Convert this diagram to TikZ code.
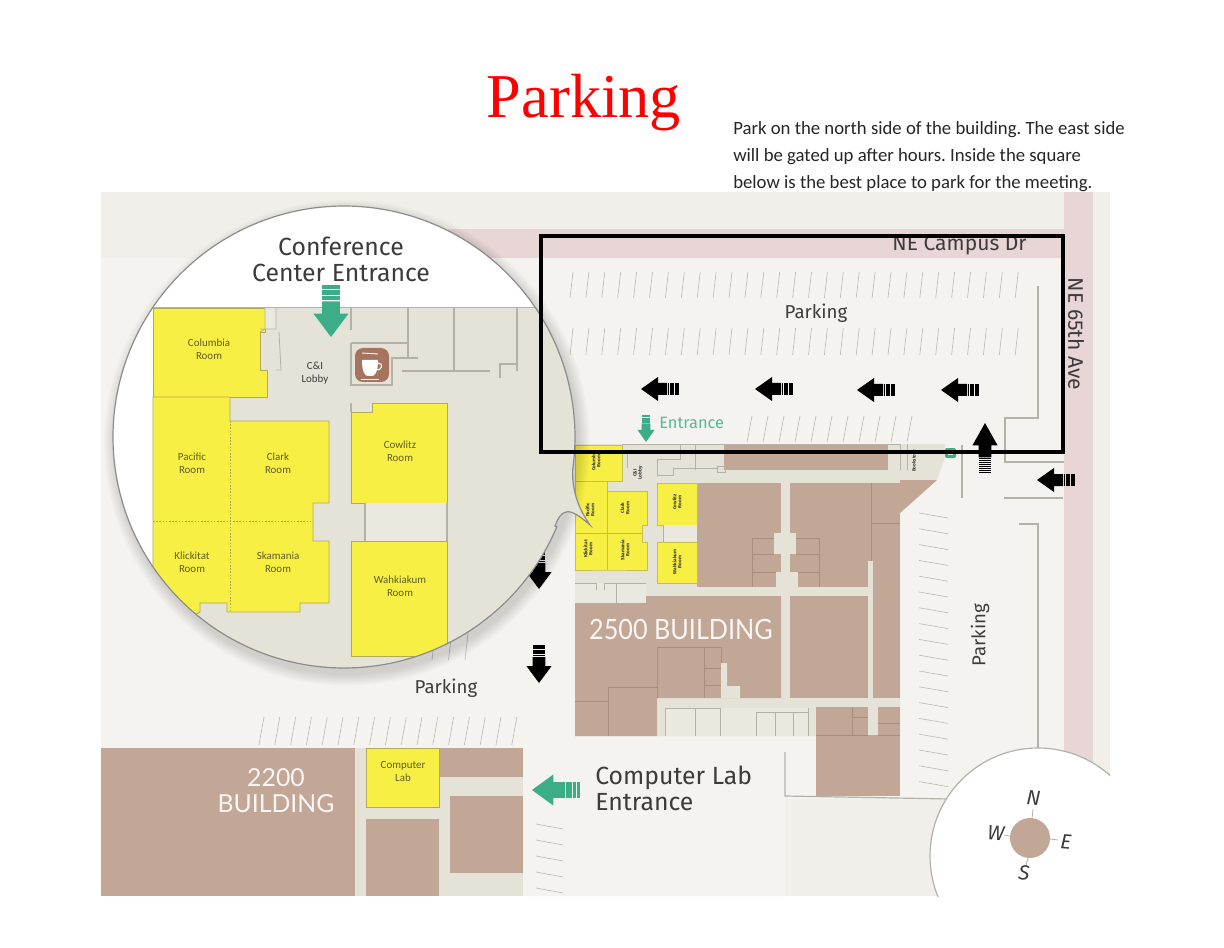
\documentclass[tikz,border=0pt]{standalone}
\usepackage{fontspec}
\usepackage{graphicx}
\setmainfont{Fira Sans}
\newfontfamily\titlefont{Liberation Serif}
\newfontfamily\parafont{Carlito}
\newfontfamily\bldfont{Lato}
\usetikzlibrary{calc}
\definecolor{mapbg}{HTML}{F1EFE9}
\definecolor{lotbg}{HTML}{F4F3EF}
\definecolor{road}{HTML}{E8D6D6}
\definecolor{brownb}{HTML}{C2A696}
\definecolor{brownl}{HTML}{AB8D7D}
\definecolor{corr}{HTML}{E5E2D8}
\definecolor{corrl}{HTML}{EAE8DF}
\definecolor{wall}{HTML}{B3B1A8}
\definecolor{yell}{HTML}{F8EF45}
\definecolor{yellb}{HTML}{B0AB55}
\definecolor{ink}{HTML}{3C3C3C}
\definecolor{roomink}{HTML}{5F5D22}
\definecolor{grn}{HTML}{3BAE88}
\definecolor{coffee}{HTML}{A5735E}
\definecolor{stall}{HTML}{BDBCB4}
\tikzset{
  x=0.75pt,y=-0.75pt,
  wallline/.style={draw=wall,line width=0.9pt},
  thinwall/.style={draw=wall,line width=0.6pt},
  inbrown/.style={draw=brownl,line width=0.5pt},
  stallline/.style={draw=stall,line width=0.5pt},
  room/.style={fill=yell,draw=yellb,line width=0.7pt},
  miniroom/.style={fill=yell,draw=yellb!70!yell,line width=0.4pt},
  roomtxt/.style={font=\fontsize{8.2}{9.8}\selectfont\parafont,text=roomink,align=center,inner sep=0pt},
  tinytxt/.style={font=\fontsize{3.5}{3.9}\selectfont\bfseries,text=black!80,align=center,inner sep=0pt,rotate=90},
  maptxt/.style={font=\fontsize{14}{14}\selectfont,text=ink,inner sep=0pt},
  largetxt/.style={font=\fontsize{18.6}{19.5}\selectfont,text=ink,inner sep=0pt},
  roadtxt/.style={font=\fontsize{15.8}{16}\selectfont,text=ink,inner sep=0pt},
  comptxt/.style={font=\fontsize{15.5}{16}\selectfont\itshape,text=ink,inner sep=0pt,rotate=-5},
  bldtxt/.style={font=\bldfont,text=white!90!brownb,inner sep=0pt,align=center},
}
% x, y (tip), rotation, colour, xscale, yscale, stripes
\newcommand\wayarrow[7]{%
  \begin{scope}[shift={(#1,#2)},rotate=#3,xscale=#5,yscale=#6]
    \fill[#4] (0,0) -- (17,-12) -- (17,-6) -- (26,-6) -- (26,6) -- (17,6) -- (17,12) -- cycle;
    \pgfmathsetmacro\stripw{12/#7}
    \foreach \i in {1,...,#7}{
      \fill[#4] ({26+(\i-1)*\stripw+0.25*\stripw},-6) rectangle ({26+\i*\stripw},6);
    }
  \end{scope}}
% n lines, x0, y0, x1, y1 first line; dx, dy
\newcommand\stalls[7]{%
  \foreach \i in {1,...,#1}{
    \draw[stallline] ({#2+(\i-1)*#6},{#3+(\i-1)*#7}) -- ({#4+(\i-1)*#6},{#5+(\i-1)*#7});
  }}
\newcommand\calloutpath{
  plot[domain=22.9:368.2,samples=220,smooth] ({344+231*cos(\x)},{437+231*sin(\x)})
  .. controls (572,490) and (578,508) .. (590,525)
  .. controls (582,518) and (572,510) .. (566,512)
  .. controls (561,513) and (558,518) .. (555,526) -- cycle}
\begin{document}
\begin{tikzpicture}
\useasboundingbox (0,0) rectangle (1224,948);
\fill[white] (0,0) rectangle (1224,948);
% map base
\fill[mapbg] (101,192) rectangle (1110,896);
\fill[lotbg] (101,258) -- (1064,258) -- (1064,799) -- (785,799) -- (785,896) -- (523,896) -- (523,748) -- (101,748) -- cycle;
% roads
\fill[road] (448,229) rectangle (1064,258);
\fill[road] (1064,192) rectangle (1093,770);
% conference building underlay
\fill[corr] (575,444) -- (945,444) -- (945,458) -- (937,480) -- (900,513) -- (900,736) -- (575,736) -- cycle;
% brown blocks
\fill[brownb] (724,444) rectangle (888,470);
\fill[brownb] (697,483) rectangle (781,587);
\fill[brownb] (790,483) -- (900,483) -- (900,587) -- (790,587) -- cycle;
\fill[brownb] (900,480) -- (937,480) -- (900,513) -- cycle;
\fill[brownb] (873,561) rectangle (900,698);
\fill[brownb] (790,596) rectangle (868,698);
\fill[corr] (868,561) rectangle (873,596);
\fill[brownb] (575,603) -- (646,603) -- (646,596) -- (781,596) -- (781,698) -- (657,698) -- (657,736) -- (575,736) -- cycle;
\fill[corr] (721,663) -- (727,663) -- (727,686) -- (740,686) -- (740,698) -- (721,698) -- cycle;
\fill[corr] (774,533) rectangle (796,554);
\fill[corr] (776,572) rectangle (798,587);
\fill[brownb] (816,707) rectangle (900,796);
\fill[corr] (868,707) rectangle (878,735);
% brown inner lines
\draw[inbrown] (752,587) -- (752,538) -- (774,538) (752,554) -- (774,554) (752,572) -- (776,572);
\draw[inbrown] (796,538) -- (819,538) -- (819,587) (796,554) -- (819,554) (798,572) -- (819,572);
\draw[inbrown] (657,698) -- (657,647) -- (721,647) -- (721,663) (704,647) -- (704,698) (704,668) -- (721,668) (704,685) -- (721,685);
\draw[inbrown] (608,736) -- (608,687) -- (657,687) (575,701) -- (608,701);
\draw[inbrown] (852,707) -- (852,735) (852,717) -- (868,717) (816,735) -- (868,735) (878,735) -- (900,735) (878,723) -- (900,723);
\draw[inbrown] (871,483) -- (871,561) (871,523) -- (900,523);
% mini plan rooms at the bottom
\fill[corrl] (665,708) rectangle (808,736);
\draw[thinwall] (665,736) -- (665,708) -- (720,708) (695,708) -- (695,736) (720,708) -- (720,736) (756,712) -- (756,736) (775,712) -- (775,736) (793,712) -- (793,736) (808,708) -- (808,736) (756,712) -- (808,712);
\fill[corrl] (575,583) rectangle (646,603);
\draw[thinwall] (575,583) -- (596,583) (604,583) -- (646,583) (616,583) -- (616,603) (596,583) -- (596,590) (604,583) -- (604,590);
% mini rooms
\path[miniroom] (575,445) -- (622,445) -- (622,481) -- (607,481) -- (607,491) -- (647,491) -- (647,525) -- (642,525) -- (642,542) -- (647,542) -- (647,570) -- (607,570) -- (575,570) -- cycle;
\draw[draw=yellb!70!yell,line width=0.4pt] (575,481) -- (607,481) -- (607,570) (575,533) -- (642,533);
\path[miniroom] (657,483) rectangle (697,525);
\path[miniroom] (657,542) rectangle (697,583);
\fill[corrl] (663,525) rectangle (697,542);
\draw[thinwall] (663,525) -- (663,542);
% mini plan lines
\draw[thinwall] (622,444) -- (900,444);
\draw[thinwall] (627,453) -- (627,468) (657,459) -- (680,459) -- (680,444) (695,444) -- (695,470) (657,459) -- (657,475) -- (673,475) -- (673,468) -- (717,468) (717,466) -- (725,466) -- (725,472) -- (717,472) -- cycle;
\draw[thinwall] (900,444) -- (900,470) (907,444) -- (907,470);
\node[tinytxt] (mColumbia) at (596,461) {Columbia\\Room};
\node[tinytxt] (mLobby) at (638,473) {C\&I\\Lobby};
\node[tinytxt] (mPacific) at (590,510) {Pacific\\Room};
\node[tinytxt] (mClark) at (625,508) {Clark\\Room};
\node[tinytxt] (mKlickitat) at (588,549) {Klickitat\\Room};
\node[tinytxt] (mSkamania) at (625,550) {Skamania\\Room};
\node[tinytxt] (mCowlitz) at (677,502) {Cowlitz\\Room};
\node[tinytxt] (mWahkiakum) at (677,562) {Wahkiakum\\Room};
\node[tinytxt,text=ink] (mStore) at (914,461) {Bookstore};
\fill[grn,rounded corners=1.5pt] (945,448) rectangle (956,458);
\fill[corr] (948,451.5) rectangle (953,454.5);
% 2200 building
\fill[corr] (355,748) rectangle (523,896);
\fill[brownb] (101,748) rectangle (355,896);
\fill[brownb] (439,748) rectangle (523,777);
\fill[brownb] (366,819) rectangle (439,896);
\fill[brownb] (450,796) rectangle (523,873);
\path[room] (366,748) rectangle (439,807);
\node[roomtxt] (lab) at (403,771.5) {Computer\\Lab};
% walls of the lot
\draw[wallline] (1038,286) -- (1038,418) -- (1005,418) -- (1005,462) -- (1064,462);
\draw[wallline] (962,445) -- (962,498) (1004,498) -- (1063,498);
\draw[wallline] (1019,524) -- (1038,524) -- (1038,760);
\draw[wallline] (785,752) -- (785,796) -- (950,799);
% parking stalls
\stalls{29}{570}{298}{573}{272}{15.9}{0}
\stalls{29}{570}{355}{573}{328}{15.9}{0}
\stalls{11}{747}{442}{752}{416}{16}{0}
\stalls{17}{259}{745}{264}{717}{15.8}{0}
\stalls{3}{432}{660}{435}{633}{16.5}{0}
\stalls{18}{919}{513}{948}{518}{0}{15.8}
\stalls{5}{536}{824}{563}{829}{0}{16}
% road and place labels
\node[roadtxt] (campus) at (959.5,245) {NE Campus Dr};
\node[roadtxt,rotate=-90] (ave) at (1076,334) {NE 65th Ave};
\node[maptxt] (park1) at (816,313) {Parking};
\node[maptxt] (park2) at (446,688) {Parking};
\node[maptxt,rotate=90] (park3) at (980,635) {Parking};
\node[largetxt,align=left,anchor=west] (lab2) at (595,788) {Computer Lab\\Entrance};
\node[maptxt,font=\fontsize{12.3}{13}\selectfont,text=grn!85!white,anchor=west] (entr) at (659,423) {Entrance};
\node[bldtxt,font=\fontsize{21}{20}\selectfont\bldfont] (b2500) at (681,629) {\scalebox{0.9}[1]{2500 BUILDING}};
\node[bldtxt,font=\fontsize{18.6}{19.5}\selectfont\bldfont] (b2200) at (276,791) {2200\\BUILDING};
% arrows
\wayarrow{641}{389}{0}{black}{1}{1}{5}
\wayarrow{755}{389}{0}{black}{1}{1}{5}
\wayarrow{857}{390}{0}{black}{1}{1}{5}
\wayarrow{941}{390}{0}{black}{1}{1}{5}
\wayarrow{1037}{480}{0}{black}{1}{1}{5}
\wayarrow{985}{423}{-90}{black}{1.32}{1.05}{8}
\wayarrow{539}{589}{90}{black}{1}{1.05}{5}
\wayarrow{539}{683}{90}{black}{1}{1.05}{5}
\wayarrow{646}{442}{90}{grn}{0.72}{0.72}{3}
\wayarrow{532}{790}{0}{grn}{1.26}{1.3}{4}
% compass
\begin{scope}
  \clip (101,192) rectangle (1110,896);
  \fill[white,draw=wall,line width=0.9pt] (1038,856) circle[radius=108];
\end{scope}
\draw[thinwall] (1033,809) -- (1032,818) (1050,839) -- (1058,840) (1028,858) -- (1026,865) (1010,836) -- (1004,835);
\fill[brownb] (1030,838) circle[radius=20];
\node[comptxt] (cN) at (1033.5,798) {N};
\node[comptxt] (cE) at (1066,842) {E};
\node[comptxt] (cS) at (1024,873) {S};
\node[comptxt] (cW) at (996,833) {W};
% shadow of callout
\foreach \r in {1,2,...,12}{
  \fill[black,opacity=0.012] (347,443) circle[radius={231+\r}];
}
% callout
\fill[white] \calloutpath;
\begin{scope}
  \clip \calloutpath;
  \fill[corr] (153,307) rectangle (610,680);
  % Columbia
  \path[room] (153,308) -- (265,308) -- (265,332) -- (260,332) -- (260,370) -- (267,370) -- (267,397) -- (153,397) -- cycle;
  % west wing
  \path[room] (153,397) -- (230,397) -- (230,421) -- (329,421) -- (329,503) -- (313,503) -- (313,541) -- (329,541) -- (329,603) -- (300,603) -- (300,612) -- (227,612) -- (227,603) -- (200,603) -- (200,612) -- (153,640) -- cycle;
  \draw[draw=yellb,line width=0.5pt,dash pattern=on 1.2pt off 1.2pt] (230,421) -- (230,612) (153,521) -- (313,521);
  % east rooms
  \path[room] (351,412) -- (372,412) -- (372,403) -- (447,403) -- (447,503) -- (351,503) -- cycle;
  \path[room] (351,541) -- (447,541) -- (447,656) -- (351,656) -- cycle;
  \fill[corrl] (365,503) rectangle (447,541);
  \draw[wallline] (365,503) -- (365,541) (447,503) -- (447,541);
  % walls
  \fill[corrl] (265,308) rectangle (276,329);
  \draw[thinwall] (153,307.5) -- (570,307.5);
  \draw[thinwall] (265,308) -- (265,329) -- (260,332) (276,308) -- (276,329) -- (260,329) (279,332) -- (281,370) -- (276,370);
  \draw[wallline] (351,308) -- (351,330);
  \draw[wallline] (351,343) -- (408,343) (408,308) -- (408,358) -- (418,358);
  \draw[wallline] (351,343) -- (351,385) -- (392,385) -- (392,358) -- (408,358);
  \draw[wallline] (402,371) -- (490,371) (454,308) -- (454,371) (517,308) -- (517,371) (500,378) -- (500,364) -- (517,364);
  \draw[wallline] (351,403) -- (351,412);
  \fill[coffee,rounded corners=6pt] (355,348) rectangle (389,382);
  \fill[white] (362,360) -- (378,360) .. controls (378,372) and (375,376) .. (372,376) -- (368,376) .. controls (365,376) and (362,372) .. (362,360) -- cycle;
  \draw[white,line width=0.8pt] (378,363) .. controls (384,363) and (382,371) .. (376,370);
  \draw[white,line width=0.7pt] (361,379) -- (379,379);
  \draw[white,line width=0.7pt] (362,353) -- (378,354);
  \node[roomtxt] (rColumbia) at (209,349.5) {Columbia\\Room};
  \node[roomtxt] (rPacific) at (192,463.5) {Pacific\\Room};
  \node[roomtxt] (rClark) at (278,463.5) {Clark\\Room};
  \node[roomtxt] (rKlickitat) at (192,562.5) {Klickitat\\Room};
  \node[roomtxt] (rSkamania) at (278,562.5) {Skamania\\Room};
  \node[roomtxt] (rCowlitz) at (400,451.5) {Cowlitz\\Room};
  \node[roomtxt] (rWahkiakum) at (400,586.5) {Wahkiakum\\Room};
  \node[roomtxt,text=ink] (rLobby) at (315,373.5) {C\&I\\Lobby};
\end{scope}
\draw[draw=black!45,line width=0.9pt] \calloutpath;
\node[largetxt,align=center] (conf) at (341,259) {Conference\\Center Entrance};
\wayarrow{331}{337}{90}{grn}{1.37}{1.46}{3}
% meeting box
\draw[black,line width=3pt] (541,236.5) rectangle (1063,452);
% title and note
\node[font=\fontsize{46.8}{50}\selectfont\titlefont,text=red,inner sep=0pt] (title) at (584,103) {Parking};
\node[font=\frenchspacing\fontsize{14.05}{20.25}\selectfont\parafont,text=black!85,align=left,anchor=north west,inner sep=0pt] (note) at (733,121) {Park on the north side of the building. The east side\\will be gated up after hours. Inside the square\\below is the best place to park for the meeting.};
\end{tikzpicture}
\end{document}
